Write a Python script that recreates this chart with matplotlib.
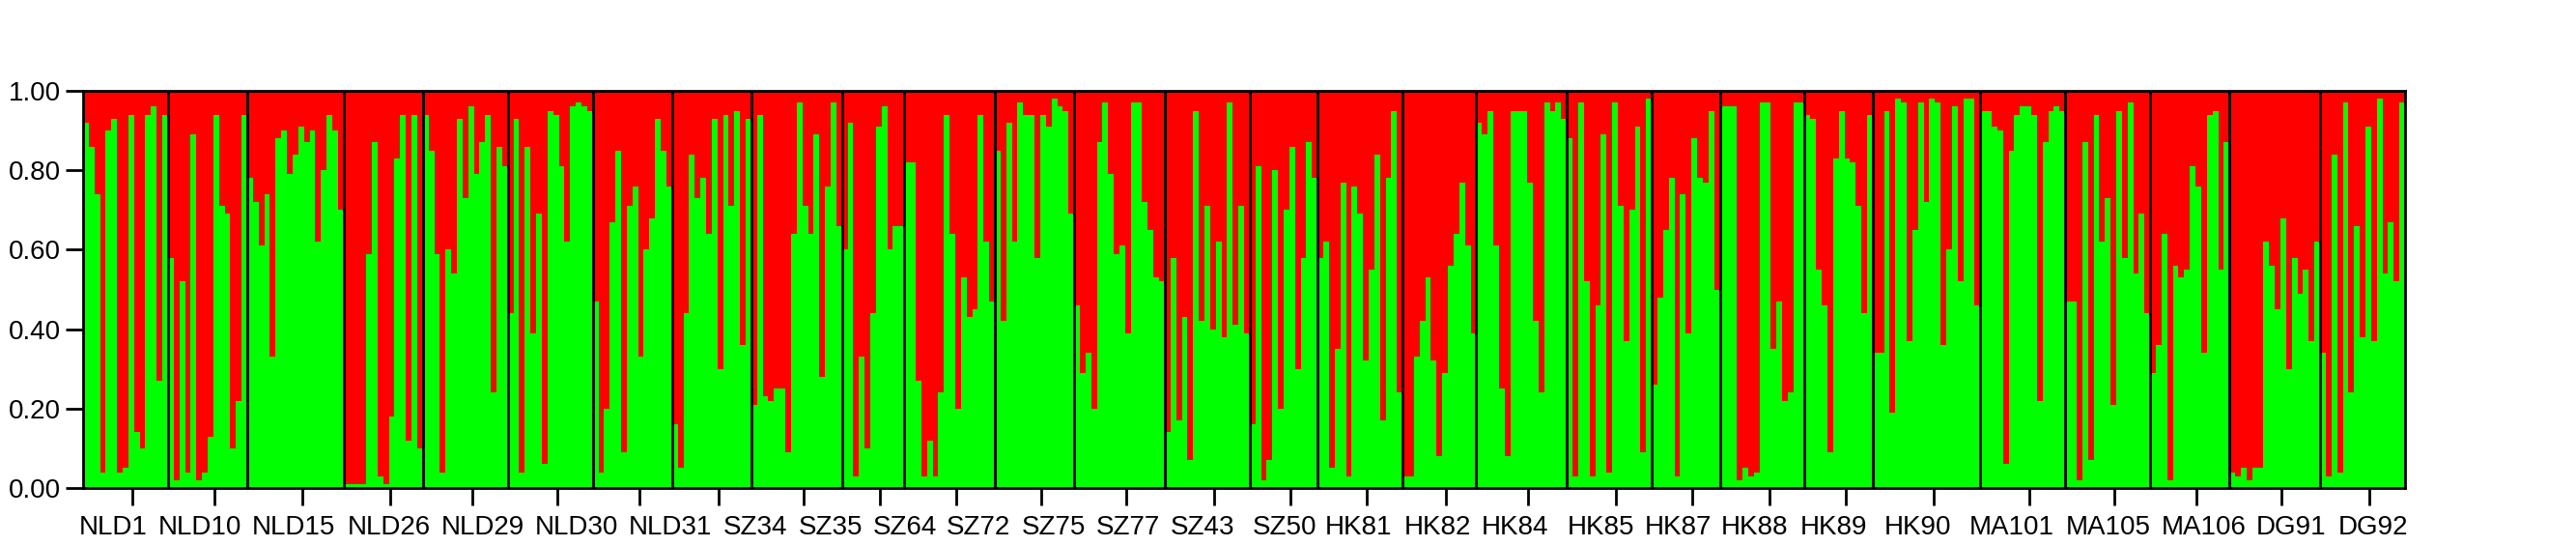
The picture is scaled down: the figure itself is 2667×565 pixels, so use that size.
import matplotlib
matplotlib.use('Agg')
import matplotlib.pyplot as plt
import numpy as np

plt.rcParams['font.family'] = ['Liberation Sans', 'DejaVu Sans']

pop_labels = ["NLD1", "NLD10", "NLD15", "NLD26", "NLD29", "NLD30", "NLD31", "SZ34", "SZ35",
              "SZ64", "SZ72", "SZ75", "SZ77", "SZ43", "SZ50", "HK81", "HK82", "HK84", "HK85",
              "HK87", "HK88", "HK89", "HK90", "MA101", "MA105", "MA106", "DG91", "DG92"]

# Membership proportion of cluster 1 (green) per individual; cluster 2 (red) = 1 - value
nld1 = [0.92, 0.86, 0.74, 0.04, 0.90, 0.93, 0.04, 0.05, 0.94, 0.14, 0.10, 0.94, 0.96, 0.27, 0.94]
nld10 = [0.58, 0.02, 0.52, 0.04, 0.89, 0.02, 0.04, 0.13, 0.94, 0.71, 0.69, 0.10, 0.22, 0.94]
nld15 = [0.78, 0.72, 0.61, 0.74, 0.33, 0.88, 0.90, 0.79, 0.84, 0.91, 0.87, 0.90, 0.62, 0.80, 0.94, 0.90, 0.70]
nld26 = [0.01, 0.01, 0.01, 0.01, 0.59, 0.87, 0.03, 0.01, 0.18, 0.83, 0.94, 0.12, 0.94, 0.10]
nld29 = [0.94, 0.85, 0.59, 0.04, 0.60, 0.54, 0.93, 0.73, 0.96, 0.79, 0.87, 0.94, 0.24, 0.86, 0.81]
nld30 = [0.44, 0.93, 0.04, 0.86, 0.39, 0.69, 0.06, 0.95, 0.94, 0.81, 0.62, 0.96, 0.97, 0.96, 0.95]
nld31 = [0.47, 0.04, 0.20, 0.67, 0.85, 0.09, 0.71, 0.76, 0.33, 0.60, 0.68, 0.93, 0.85, 0.76]
sz34 = [0.16, 0.05, 0.44, 0.84, 0.73, 0.78, 0.64, 0.93, 0.30, 0.94, 0.71, 0.95, 0.36, 0.93]
sz35 = [0.21, 0.94, 0.23, 0.22, 0.25, 0.25, 0.09, 0.64, 0.97, 0.71, 0.64, 0.89, 0.28, 0.76, 0.97, 0.66]
sz64 = [0.60, 0.92, 0.03, 0.33, 0.10, 0.44, 0.91, 0.96, 0.60, 0.66, 0.66]
sz72 = [0.82, 0.82, 0.27, 0.03, 0.12, 0.03, 0.24, 0.94, 0.64, 0.20, 0.53, 0.43, 0.45, 0.94, 0.62, 0.47]
sz75 = [0.85, 0.42, 0.92, 0.62, 0.97, 0.94, 0.94, 0.58, 0.94, 0.91, 0.98, 0.96, 0.95, 0.69]
sz77 = [0.46, 0.29, 0.34, 0.20, 0.87, 0.97, 0.79, 0.59, 0.61, 0.39, 0.97, 0.97, 0.72, 0.65, 0.53, 0.52]
sz43 = [0.14, 0.58, 0.17, 0.43, 0.07, 0.95, 0.42, 0.71, 0.40, 0.62, 0.38, 0.97, 0.41, 0.71, 0.39]
sz50 = [0.16, 0.81, 0.02, 0.07, 0.80, 0.20, 0.70, 0.86, 0.30, 0.58, 0.87, 0.78]
hk81 = [0.58, 0.62, 0.05, 0.35, 0.77, 0.03, 0.76, 0.69, 0.32, 0.55, 0.84, 0.17, 0.78, 0.95, 0.24]
hk82 = [0.03, 0.03, 0.33, 0.42, 0.53, 0.32, 0.08, 0.29, 0.56, 0.64, 0.77, 0.61, 0.39]
hk84 = [0.92, 0.89, 0.95, 0.61, 0.25, 0.08, 0.95, 0.95, 0.95, 0.77, 0.42, 0.24, 0.97, 0.95, 0.97, 0.93]
hk85 = [0.88, 0.03, 0.97, 0.52, 0.03, 0.46, 0.89, 0.04, 0.97, 0.71, 0.37, 0.70, 0.91, 0.09, 0.98]
hk87 = [0.26, 0.48, 0.65, 0.78, 0.03, 0.74, 0.39, 0.88, 0.78, 0.77, 0.95, 0.50]
hk88 = [0.96, 0.96, 0.96, 0.02, 0.05, 0.03, 0.04, 0.97, 0.97, 0.35, 0.47, 0.22, 0.24, 0.97, 0.97]
hk89 = [0.94, 0.93, 0.55, 0.46, 0.09, 0.83, 0.95, 0.83, 0.82, 0.71, 0.44, 0.94]
hk90 = [0.34, 0.34, 0.95, 0.19, 0.98, 0.97, 0.37, 0.65, 0.97, 0.72, 0.98, 0.97, 0.36, 0.60,
        0.96, 0.52, 0.98, 0.98, 0.46]
ma101 = [0.95, 0.95, 0.91, 0.90, 0.06, 0.85, 0.94, 0.96, 0.96, 0.94, 0.22, 0.87, 0.95, 0.96, 0.95]
ma105 = [0.47, 0.47, 0.02, 0.87, 0.07, 0.94, 0.62, 0.73, 0.21, 0.95, 0.58, 0.97, 0.54, 0.69, 0.44]
ma106 = [0.29, 0.36, 0.64, 0.02, 0.56, 0.53, 0.55, 0.81, 0.76, 0.34, 0.94, 0.95, 0.55, 0.87]
dg91 = [0.04, 0.03, 0.05, 0.02, 0.05, 0.05, 0.62, 0.56, 0.45, 0.68, 0.30, 0.58, 0.49, 0.55, 0.37, 0.62]
dg92 = [0.34, 0.03, 0.84, 0.04, 0.97, 0.24, 0.66, 0.38, 0.91, 0.37, 0.98, 0.54, 0.67, 0.52, 0.97]

groups = [nld1, nld10, nld15, nld26, nld29, nld30, nld31, sz34, sz35, sz64, sz72, sz75, sz77,
          sz43, sz50, hk81, hk82, hk84, hk85, hk87, hk88, hk89, hk90, ma101, ma105, ma106,
          dg91, dg92]

GREEN = '#00FF00'
RED = '#FF0000'

green_vals = np.concatenate([np.array(g, dtype=float) for g in groups])
red_vals = 1.0 - green_vals
n = len(green_vals)
x = np.arange(n)
counts = [len(g) for g in groups]
bounds = np.concatenate([[0], np.cumsum(counts)])

W, H = 2667, 565
AX_L, AX_R, AX_T, AX_B = 86, 2490, 94, 505
fig = plt.figure(figsize=(W / 100, H / 100), dpi=100)
ax = fig.add_axes([AX_L / W, 1 - AX_B / H, (AX_R - AX_L) / W, (AX_B - AX_T) / H])

ax.bar(x, green_vals, width=1.0, align='edge', color=GREEN, linewidth=0, antialiased=False)
ax.bar(x, red_vals, bottom=green_vals, width=1.0, align='edge', color=RED, linewidth=0,
       antialiased=False)

for b in bounds[1:-1]:
    ax.axvline(b, color='black', linewidth=2.0, zorder=3)

ax.set_xlim(0, n)
ax.set_ylim(0, 1)

# tick marks sit a little right of each group's centre
tick_pos = (bounds[:-1] + bounds[1:]) / 2 + 1.2
ax.set_xticks(tick_pos)
ax.set_xticklabels([''] * len(tick_pos))

# population labels are laid out as a text row, not exactly under the tick marks (pixel centres)
label_px = np.array([117, 207, 304, 403, 500, 597, 694, 782, 860, 937, 1013, 1091, 1168, 1245,
                     1330, 1407, 1488, 1569, 1658, 1737, 1817, 1898, 1986, 2083, 2183, 2282,
                     2372, 2457])
label_pos = (label_px - AX_L) / (AX_R - AX_L) * n
ax.set_xticks(label_pos, minor=True)
ax.set_xticklabels(pop_labels, minor=True)

yt = np.arange(0, 1.01, 0.2)
ax.set_yticks(yt)
ax.set_yticklabels([f'{v:.2f}' for v in yt])

ax.tick_params(axis='x', which='major', direction='out', length=13, width=2, color='black')
ax.tick_params(axis='x', which='minor', length=0, labelsize=20, pad=20)
ax.tick_params(axis='y', direction='out', length=13, width=2, labelsize=20, pad=3.5, color='black')

for s in ax.spines.values():
    s.set_linewidth(2.0)
    s.set_color('black')
    s.set_zorder(4)

fig.savefig('out.png', dpi=100, facecolor='white')
